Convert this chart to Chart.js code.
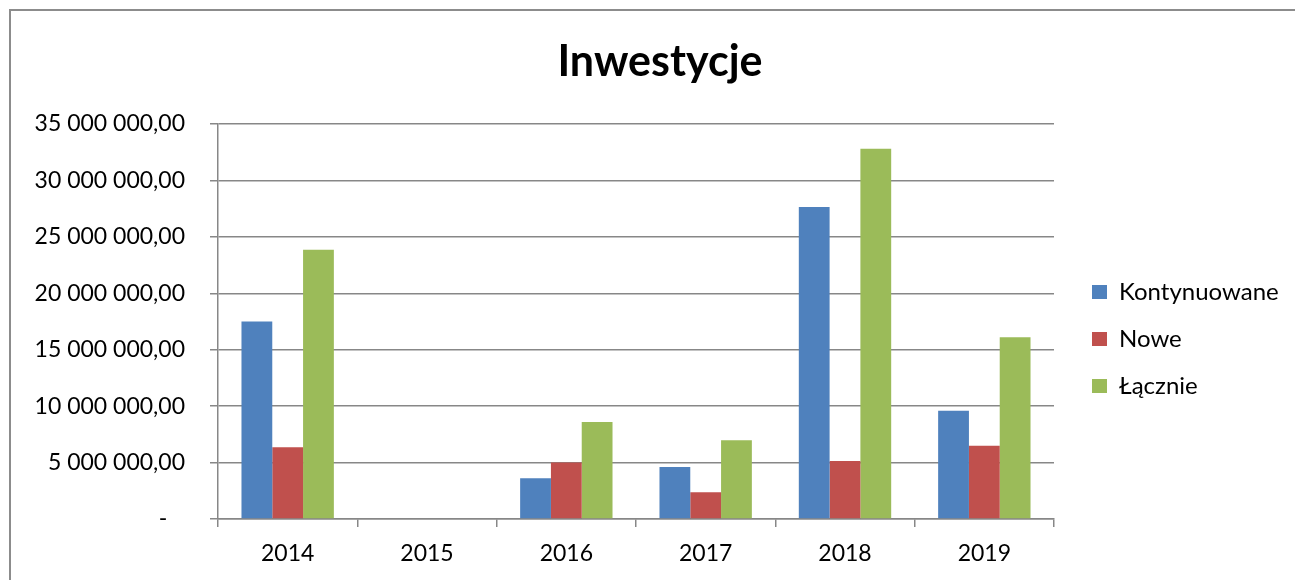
<!DOCTYPE html>
<html>
<head>
<meta charset="utf-8">
<title>Inwestycje</title>
<script src="https://cdn.jsdelivr.net/npm/chart.js@4"></script>
<style>
  html, body { margin: 0; padding: 0; background: #fff; }
  #wrap { position: relative; width: 1295px; height: 580px; overflow: hidden; }
  #frame { position: absolute; left: 9px; top: 9px; width: 1300px; height: 600px;
           border-top: 2px solid #8c8c8c; border-left: 2px solid #8c8c8c; pointer-events: none; }
  canvas { position: absolute; left: 0; top: 0; }
</style>
</head>
<body>
<div id="wrap">
  <canvas id="myChart" width="1295" height="580"></canvas>
  <div id="frame"></div>
</div>
<script>
// Data
const years = ["2014", "2015", "2016", "2017", "2018", "2019"];
const kontynuowane = [17500000, 0, 3600000, 4600000, 27650000, 9600000];
const nowe = [6350000, 0, 5000000, 2370000, 5150000, 6500000];
const lacznie = [23850000, 0, 8600000, 6970000, 32800000, 16100000];

const yMax = 35000000;
const yStep = 5000000;

const gridColor = '#878787';
const font = 'Lato, "Noto Sans", sans-serif';

// "35 000 000,00" style, zero shown as a dash
function formatPln(value) {
    if (value === 0) return '-   ';
    return String(value).replace(/\B(?=(\d{3})+(?!\d))/g, ' ') + ',00';
}

// move legend and title to where the original has them
const placeBoxes = {
    id: 'placeBoxes',
    afterLayout(chart) {
        const lg = chart.legend;
        const dx = 1069 - lg.left, dy = 257 - lg.top;
        lg.left += dx; lg.right += dx;
        lg.top += dy; lg.bottom += dy;
        const tb = chart.titleBlock;
        const shift = 660 - (tb.left + tb.right) / 2;
        tb.left += shift; tb.right += shift;
    }
};

const ctx = document.getElementById('myChart').getContext('2d');
const myChart = new Chart(ctx, {
    type: 'bar',
    data: {
        labels: years,
        datasets: [
            { label: 'Kontynuowane', data: kontynuowane, backgroundColor: '#4F81BD' },
            { label: 'Nowe', data: nowe, backgroundColor: '#C0504D' },
            { label: 'Łącznie', data: lacznie, backgroundColor: '#9BBB59' }
        ]
    },
    options: {
        responsive: false,
        animation: false,
        categoryPercentage: 0.663,
        barPercentage: 1.0,
        layout: {
            padding: { left: 0, right: 241, top: 0, bottom: 0 }
        },
        plugins: {
            title: {
                display: true,
                text: 'Inwestycje',
                color: '#000',
                font: { family: font, size: 43, weight: 'bold' },
                padding: { top: 36, bottom: 36.4 }
            },
            legend: {
                position: 'chartArea',
                align: 'start',
                labels: {
                    color: '#000',
                    font: { family: font, size: 24 },
                    boxWidth: 15,
                    boxHeight: 14,
                    padding: 23
                }
            },
            tooltip: { enabled: false }
        },
        scales: {
            x: {
                grid: {
                    display: true,
                    drawOnChartArea: false,
                    drawTicks: true,
                    tickLength: 8,
                    color: gridColor,
                    lineWidth: 1.5
                },
                border: { display: true, color: gridColor, width: 1.5 },
                ticks: {
                    color: '#000',
                    font: { family: font, size: 23 },
                    padding: 13,
                    maxRotation: 0
                },
                afterFit: function(scale) { scale.height = 61; }
            },
            y: {
                min: 0,
                max: yMax,
                grid: {
                    color: gridColor,
                    lineWidth: 1.5,
                    drawTicks: true,
                    tickLength: 8
                },
                border: { display: true, color: gridColor, width: 1.5 },
                ticks: {
                    stepSize: yStep,
                    color: '#000',
                    font: { family: font, size: 23 },
                    padding: 25,
                    callback: function(value) { return formatPln(value); }
                },
                afterFit: function(scale) { scale.width = 218; }
            }
        }
    },
    plugins: [placeBoxes]
});
</script>
</body>
</html>
